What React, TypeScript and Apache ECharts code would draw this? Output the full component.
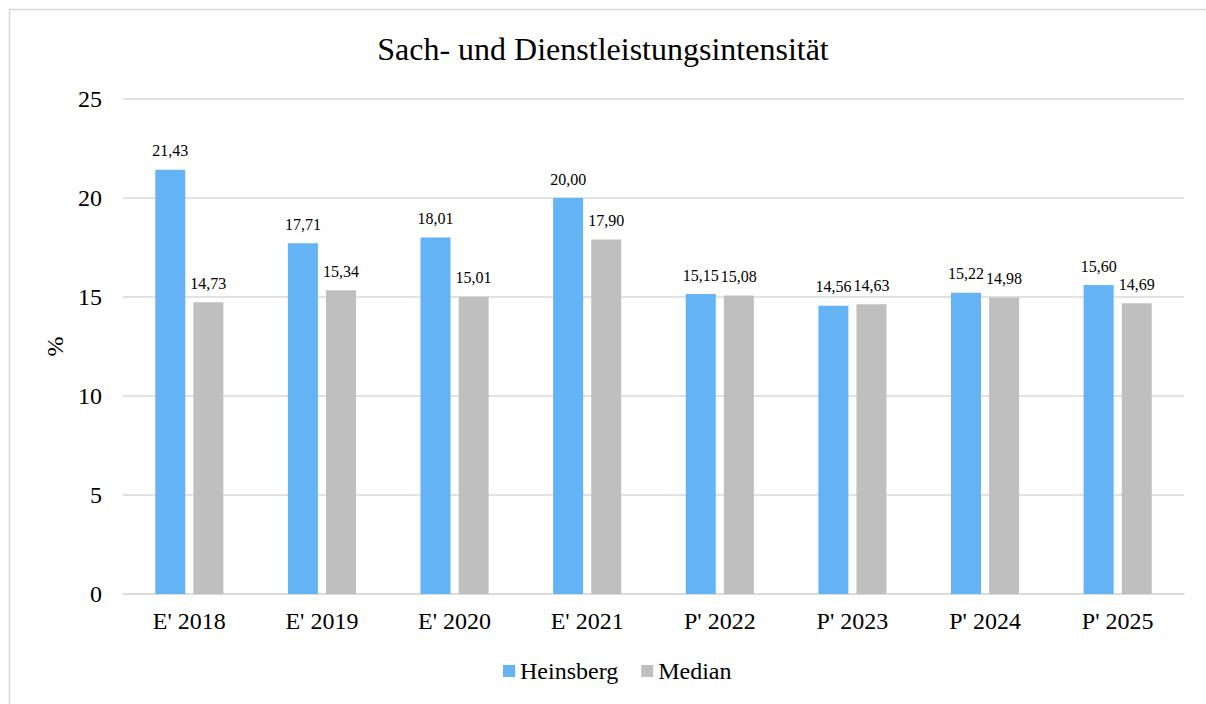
import React, { useEffect, useRef } from "react";
import * as echarts from "echarts";

const categories = ["E' 2018", "E' 2019", "E' 2020", "E' 2021", "P' 2022", "P' 2023", "P' 2024", "P' 2025"];
const heinsberg = [21.43, 17.71, 18.01, 20.0, 15.15, 14.56, 15.22, 15.6];
const median = [14.73, 15.34, 15.01, 17.9, 15.08, 14.63, 14.98, 14.69];
const titleText = "Sach- und Dienstleistungsintensität";
const yAxisName = "%";

const FONT = "Times New Roman, Liberation Serif, serif";

export default function App() {
  const ref = useRef<HTMLDivElement>(null);
  useEffect(() => {
    if (!ref.current) return;
    const chart = echarts.init(ref.current, null, { renderer: "svg" });
    const fmt = (p: any) => Number(p.value).toFixed(2).replace(".", ",");
    chart.setOption({
      animation: false,
      backgroundColor: "#ffffff",
      textStyle: { fontFamily: FONT },
      title: {
        text: titleText,
        left: "center",
        top: 28,
        textStyle: { fontFamily: FONT, fontSize: 32, fontWeight: "normal", color: "#000" },
      },
      graphic: [
        {
          type: "rect",
          shape: { x: 9.5, y: 9.5, width: 1220, height: 720 },
          style: { fill: "none", stroke: "#d9d9d9", lineWidth: 1.5 },
          silent: true,
        },
      ],
      legend: {
        bottom: 16,
        left: 498,
        itemWidth: 12,
        itemHeight: 12,
        itemGap: 23,
        icon: "rect",
        textStyle: { fontFamily: FONT, fontSize: 24, color: "#000" },
        data: ["Heinsberg", "Median"],
      },
      grid: { left: 123, right: 22, top: 99, bottom: 110, containLabel: false },
      xAxis: {
        type: "category",
        data: categories,
        axisLine: { lineStyle: { color: "#d9d9d9", width: 1.5 } },
        axisTick: { show: false },
        axisLabel: { fontFamily: FONT, fontSize: 24, color: "#000", margin: 15 },
      },
      yAxis: {
        type: "value",
        min: 0,
        max: 25,
        interval: 5,
        name: yAxisName,
        nameLocation: "middle",
        nameGap: 53,
        nameRotate: 90,
        nameTextStyle: { fontFamily: FONT, fontSize: 24, color: "#000" },
        axisLine: { show: false },
        axisTick: { show: false },
        splitLine: { lineStyle: { color: "#d9d9d9", width: 1.5 } },
        axisLabel: { fontFamily: FONT, fontSize: 24, color: "#000", margin: 21 },
      },
      series: [
        {
          name: "Heinsberg",
          type: "bar",
          data: heinsberg,
          barWidth: 30,
          barGap: "27%",
          itemStyle: { color: "#63b3f5" },
          label: { show: true, position: "top", distance: 11, formatter: fmt, fontFamily: FONT, fontSize: 16, color: "#000" },
        },
        {
          name: "Median",
          type: "bar",
          data: median,
          barWidth: 30,
          barGap: "27%",
          itemStyle: { color: "#bfbfbf" },
          label: { show: true, position: "top", distance: 11, formatter: fmt, fontFamily: FONT, fontSize: 16, color: "#000" },
        },
      ],
    });
    return () => chart.dispose();
  }, []);
  return (
    <div
      ref={ref}
      style={{ position: "fixed", left: 0, top: 0, width: 1206, height: 704 }}
    />
  );
}
